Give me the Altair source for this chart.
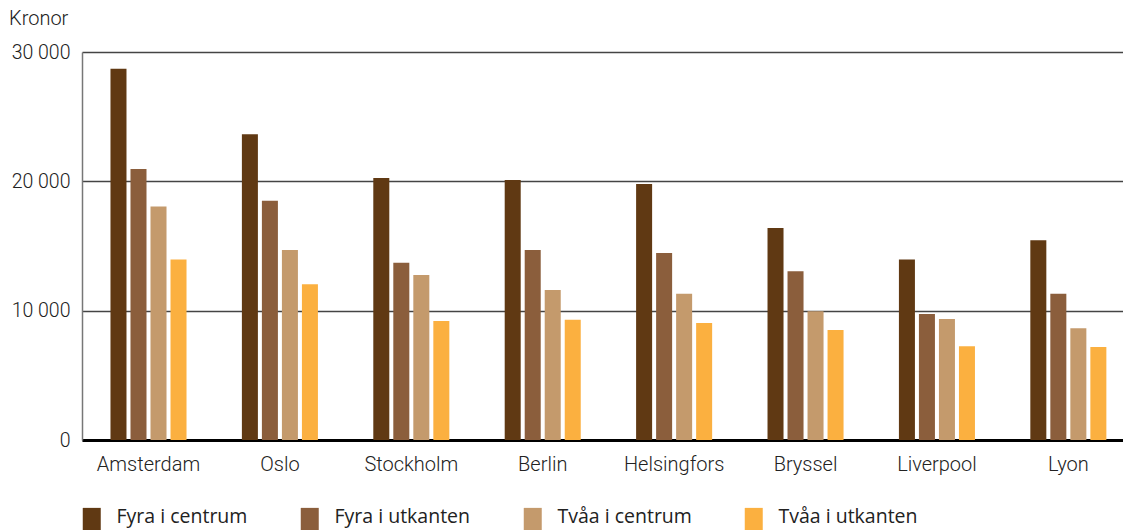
import altair as alt
import pandas as pd

cities = ["Amsterdam", "Oslo", "Stockholm", "Berlin", "Helsingfors", "Bryssel", "Liverpool", "Lyon"]
series = ["Fyra i centrum", "Fyra i utkanten", "Tvåa i centrum", "Tvåa i utkanten"]
fyra_centrum = [28700, 23650, 20250, 20100, 19800, 16400, 13950, 15450]
fyra_utkanten = [20950, 18500, 13700, 14700, 14450, 13050, 9750, 11300]
tvaa_centrum = [18050, 14700, 12750, 11600, 11300, 9950, 9350, 8650]
tvaa_utkanten = [13950, 12050, 9200, 9300, 9050, 8500, 7250, 7200]
colors = ["#603913", "#8B5E3C", "#C49A6C", "#FBB040"]

rows = []
for s, vals in zip(series, [fyra_centrum, fyra_utkanten, tvaa_centrum, tvaa_utkanten]):
    for c, v in zip(cities, vals):
        rows.append({"Stad": c, "Typ": s, "Kronor": v})
df = pd.DataFrame(rows)

bars = alt.Chart(df).mark_bar().encode(
    x=alt.X("Stad:N", sort=cities, title=None,
            scale=alt.Scale(paddingInner=0.4, paddingOuter=0.161, align=0.64),
            axis=alt.Axis(labelAngle=0, labelFont="Roboto", labelFontSize=20, labelFontWeight=300,
                          labelColor="#222", labelPadding=14, ticks=False,
                          domainColor="#000", domainWidth=3)),
    xOffset=alt.XOffset("Typ:N", sort=series,
                        scale=alt.Scale(paddingInner=0.2, paddingOuter=0.07)),
    y=alt.Y("Kronor:Q", title=None,
            scale=alt.Scale(domain=[0, 30000], nice=False),
            axis=alt.Axis(values=[0, 10000, 20000, 30000], labelFont="Roboto", labelFontSize=19.5,
                          labelFontWeight=300, labelColor="#222", labelPadding=12, ticks=False,
                          labelExpr="replace(format(datum.value, ','), ',', ' ')",
                          domainColor="#777", domainWidth=1.5,
                          gridColor="#444", gridWidth=1.5)),
    color=alt.Color("Typ:N", sort=series, title=None,
                    scale=alt.Scale(domain=series, range=colors),
                    legend=alt.Legend(orient="none", legendX=0, legendY=455, direction="horizontal",
                                      columns=4, columnPadding=52, padding=0,
                                      symbolType="M-1,-1H1V2H-1Z", symbolSize=324,
                                      symbolStrokeWidth=0, symbolOpacity=1,
                                      labelFont="Open Sans", labelFontSize=19.5, labelColor="#222",
                                      labelOffset=15, labelLimit=300)),
)

title = alt.Chart(pd.DataFrame({"t": ["Kronor"]})).mark_text(
    font="Roboto", fontSize=20, fontWeight=300, color="#222", align="left", baseline="middle"
).encode(text="t:N", x=alt.value(-73), y=alt.value(-33))

chart = alt.layer(bars, title).properties(
    width=1041, height=388,
    padding={"left": 82, "top": 52, "right": 0, "bottom": 90},
    autosize=alt.AutoSizeParams(type="none"),
).configure_view(stroke=None)

chart.save("out.html", embed_options={"renderer": "svg", "actions": False})
